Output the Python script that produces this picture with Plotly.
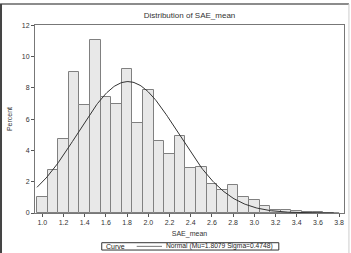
import numpy as np
import plotly.graph_objects as go

# Data
bin_mid = [1.0, 1.1, 1.2, 1.3, 1.4, 1.5, 1.6, 1.7, 1.8, 1.9, 2.0, 2.1, 2.2, 2.3, 2.4,
           2.5, 2.6, 2.7, 2.8, 2.9, 3.0, 3.1, 3.2, 3.3, 3.4, 3.5, 3.6, 3.7]
percent = [1.05, 2.75, 4.7, 9.0, 6.88, 11.03, 7.42, 6.95, 9.19, 5.73, 7.85, 4.62, 3.8, 4.92, 2.85,
           2.95, 1.84, 1.45, 1.78, 1.0, 0.86, 0.45, 0.22, 0.22, 0.1, 0.05, 0.04, 0.03]
mu = 1.8079
sigma = 0.4748
bin_width = 0.1
x_ticks = [1.0, 1.2, 1.4, 1.6, 1.8, 2.0, 2.2, 2.4, 2.6, 2.8, 3.0, 3.2, 3.4, 3.6, 3.8]
y_ticks = [0, 2, 4, 6, 8, 10, 12]

# fitted normal curve (scaled to percent per bin)
xc = np.linspace(0.95, 3.8, 300)
yc = 100 * bin_width * np.exp(-0.5 * ((xc - mu) / sigma) ** 2) / (sigma * np.sqrt(2 * np.pi))

FONT = "Liberation Sans, Arial, sans-serif"
TXT = "#333333"

fig = go.Figure()
fig.add_trace(go.Bar(x=bin_mid, y=percent, width=bin_width,
                     marker=dict(color="#e8e8e8", line=dict(color="#808080", width=1)),
                     showlegend=False, hoverinfo="x+y"))
fig.add_trace(go.Scatter(x=xc, y=yc, mode="lines",
                         line=dict(color="#333333", width=1), showlegend=False))

fig.update_layout(
    width=351, height=253,
    margin=dict(l=35, r=7, t=25, b=40),
    paper_bgcolor="white", plot_bgcolor="white",
    font=dict(family=FONT, size=7, color=TXT),
    bargap=0,
    title=dict(text="Distribution of SAE_mean", x=0.5, xref="paper", xanchor="center",
               y=0.94, yanchor="middle", font=dict(size=8, color=TXT)),
    xaxis=dict(range=[0.931, 3.846], tickvals=x_ticks, ticktext=[f"{t:.1f}" for t in x_ticks],
               ticks="outside", ticklen=3, tickcolor="#555", showline=True, linecolor="#777",
               linewidth=1, mirror=True, showgrid=False, zeroline=False,
               title=dict(text="SAE_mean", standoff=5, font=dict(size=7, color=TXT))),
    yaxis=dict(range=[0, 12.02], tickvals=y_ticks, ticks="outside", ticklen=3, tickcolor="#555",
               showline=True, linecolor="#777", linewidth=1, mirror=True, showgrid=False,
               zeroline=False,
               title=dict(text="Percent", standoff=8, font=dict(size=7, color=TXT))),
)

# outer border (top and left darker, right lighter)
fig.add_shape(type="line", xref="paper", yref="paper", x0=-0.113, x1=1.016, y0=1.112, y1=1.112,
              line=dict(color="#666", width=1.5))
fig.add_shape(type="line", xref="paper", yref="paper", x0=-0.110, x1=-0.110, y0=1.112, y1=-0.25,
              line=dict(color="#444", width=2))
fig.add_shape(type="line", xref="paper", yref="paper", x0=1.016, x1=1.016, y0=1.112, y1=-0.25,
              line=dict(color="#ccc", width=1))

# custom legend box
fig.add_shape(type="rect", xref="paper", yref="paper", x0=0.216, x1=0.789, y0=-0.197, y1=-0.158,
              line=dict(color="#333", width=1), fillcolor="white")
fig.add_shape(type="line", xref="paper", yref="paper", x0=(136.7 - 35) / 309, x1=(162 - 35) / 309,
              y0=-0.1775, y1=-0.1775, line=dict(color="#777", width=1))
fig.add_annotation(xref="paper", yref="paper", x=(104 - 35) / 309, y=-0.1775, xanchor="left",
                   yanchor="middle", text="Curve", showarrow=False, font=dict(size=7, color="#222"))
fig.add_annotation(xref="paper", yref="paper", x=(164 - 35) / 309, y=-0.1775, xanchor="left",
                   yanchor="middle", text=f"Normal (Mu={mu:.4f} Sigma={sigma:.4f})",
                   showarrow=False, font=dict(size=6.7, color="#222"))

fig.write_html("out.html")
